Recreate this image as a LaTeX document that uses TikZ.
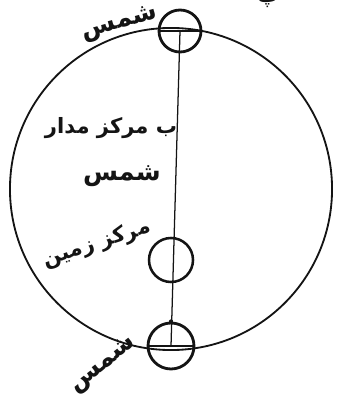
\documentclass[tikz,border=0pt]{standalone}
\usepackage{fontspec}
\usepackage{tikz}
\usetikzlibrary{positioning}
\TeXXeTstate=1
\newfontfamily\arabicfont[Script=Arabic]{DejaVu Sans}
\newcommand{\ur}[1]{\arabicfont\bfseries\beginR #1\endR}
\definecolor{myink}{RGB}{20,20,20}
\tikzset{
  orbit/.style={circle, draw=myink, line width=1.3pt, inner sep=0pt},
  sun/.style={circle, draw=myink, line width=2pt, inner sep=0pt,
    minimum size=1.05cm},
  earth/.style={circle, draw=myink, line width=1.8pt, inner sep=0pt,
    minimum size=1.1cm},
  label/.style={font=\fontsize{15}{16}\selectfont, text=myink, inner sep=0pt},
  biglabel/.style={font=\fontsize{18}{20}\selectfont, text=myink, inner sep=0pt},
  line/.style={line width=0.9pt, color=myink}
}

\begin{document}
\begin{tikzpicture}[x=0.025cm, y=-0.025cm]
  \useasboundingbox (0,0) rectangle (338,398);
  \clip (0,0) rectangle (338,398);

  % Orbit of the sun
  \node[orbit, minimum size=8.05cm] (orb) at (171,189) {};

  % Sun and earth
  \node[sun] (suntop) at (180,31) {};
  \node[earth] (earth) at (171,260) {};
  \node[sun, minimum size=1.15cm] (sunbot) at (171,346) {};

  % Diameter line
  \draw[line] (suntop.center) -- (sunbot.center);
  \draw[line, line width=1.2pt] (suntop.west) -- (suntop.east);
  \draw[line, line width=1.2pt] (sunbot.west) -- (sunbot.east);
  \fill[myink] (sunbot.north) circle [radius=2.2];

  % Labels
  \node[biglabel, rotate=16] (lsuntop) at (120,24) {\ur{شمس}};
  \node[label] (lcentre) at (111,128) {\ur{ب مرکز مدار}};
  \node[biglabel] (lcentre2) at (122,176) {\ur{شمس}};
  \node[label, rotate=18] (learth) at (97,244) {\ur{مرکز زمین}};
  \node[biglabel, rotate=38] (lsunbot) at (103,365) {\ur{شمس}};
  \node[label] (lcut) at (268,2) {\ur{پ}};
\end{tikzpicture}
\end{document}
